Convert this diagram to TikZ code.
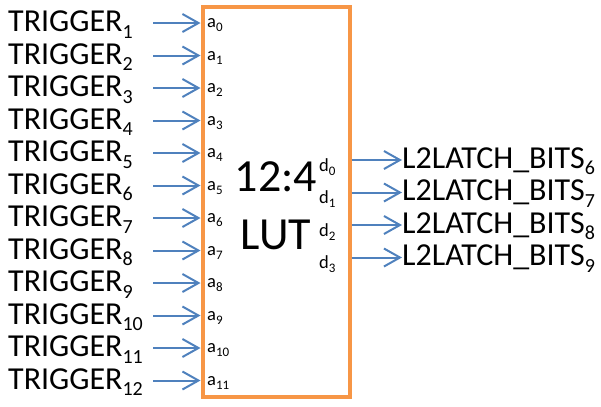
\documentclass[tikz,border=0pt]{standalone}
\usepackage{fontspec}
\setmainfont{Carlito}
\usetikzlibrary{arrows.meta}
\definecolor{lutorange}{HTML}{F79646}
\definecolor{wireblue}{HTML}{4F81BD}
\newcommand\bigsub[1]{\raisebox{-6.5bp}{\fontsize{20bp}{20bp}\selectfont #1}}
\newcommand\smallsub[1]{\raisebox{-4bp}{\fontsize{13bp}{13bp}\selectfont #1}}
\tikzset{
  signame/.style={anchor=base west, inner sep=0pt, font=\fontsize{32bp}{32bp}\selectfont},
  portname/.style={anchor=base west, inner sep=0pt, font=\fontsize{18.5bp}{18.5bp}\selectfont},
  wire/.style={draw=wireblue, line width=2bp, -{Straight Barb[length=16bp, width=18bp]}},
  lutbox/.style={draw=lutorange, line width=4bp, minimum width=147bp, minimum height=390bp, inner sep=0pt},
}
\begin{document}
\begin{tikzpicture}[x=1bp, y=-1bp]
\useasboundingbox (0,0) rectangle (601,406);
% the lookup table block
\node[lutbox] (lut) at (276,202) {};
\node[align=center, inner sep=0pt, font=\fontsize{46bp}{58bp}\selectfont] (title) at (276,206) {12:4\\LUT};
% twelve trigger inputs
\foreach \i [evaluate=\i as \y using {23+32.5*(\i-1)}, evaluate=\i as \k using {int(\i-1)}] in {1,...,12} {
  \node[signame] (trig\i) at (8,\y+8.5) {TRIGGER\bigsub{\i}};
  \coordinate (src\i) at (153,\y);
  \coordinate (port\i) at (lut.west |- src\i);
  \node[portname] (a\i) at (207,\y+4.5) {a\smallsub{\k}};
  \draw[wire] (src\i) -- (port\i);
}
% four latch-bit outputs
\foreach \j [evaluate=\j as \y using {160+32.5*\j}, evaluate=\j as \b using {int(\j+6)}] in {0,...,3} {
  \coordinate (out\j) at (lut.east |- 0,\y);
  \node[portname] (d\j) at (319,\y+11) {d\smallsub{\j}};
  \node[signame] (bits\j) at (402,\y+8) {L2LATCH\_BITS\bigsub{\b}};
  \draw[wire] (out\j) -- (bits\j.west |- out\j);
}
\end{tikzpicture}
\end{document}
